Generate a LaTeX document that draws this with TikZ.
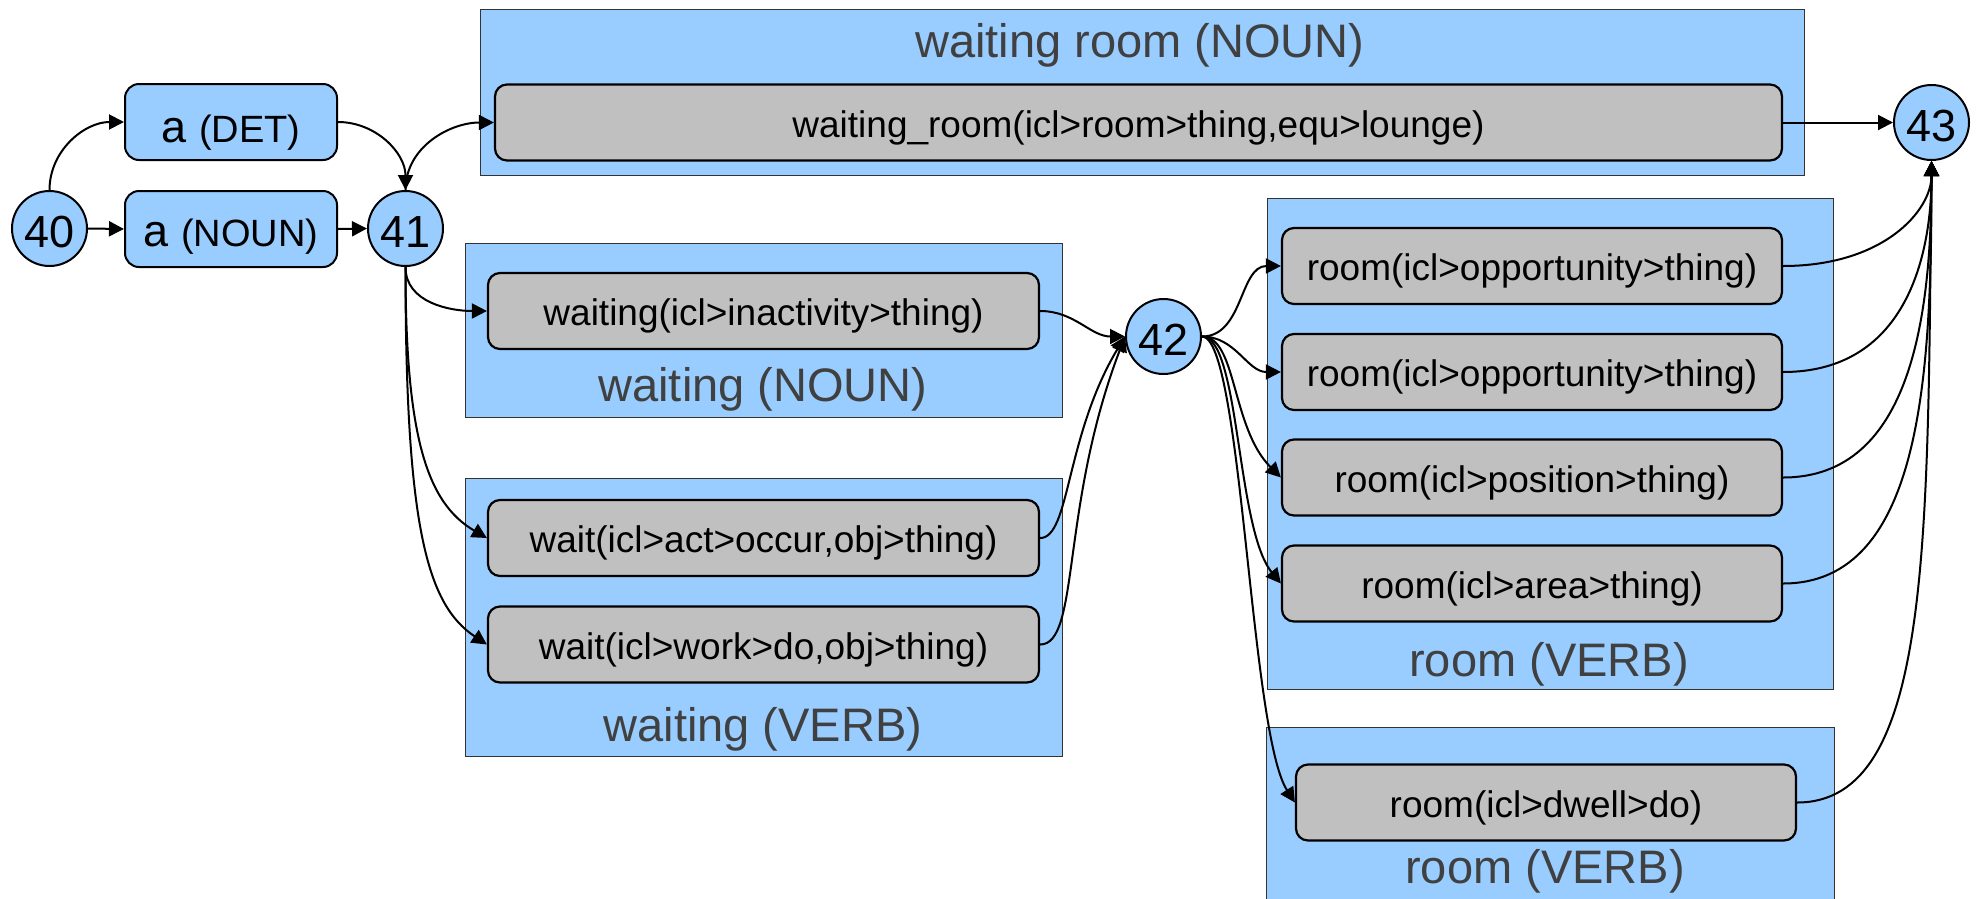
\documentclass[tikz,border=0pt]{standalone}
\usepackage{fontspec}
\setmainfont{Liberation Sans}
\usetikzlibrary{arrows.meta}
\definecolor{boxblue}{HTML}{99CCFF}
\definecolor{boxgray}{HTML}{C0C0C0}
\definecolor{labelgray}{HTML}{404040}
\definecolor{frameline}{HTML}{333333}
\newcommand{\myfs}[1]{\fontsize{#1pt}{#1pt}\selectfont}
\begin{document}
\begin{tikzpicture}[x=1pt,y=1pt,
  state/.style={circle,draw=black,line width=2pt,fill=boxblue,minimum size=75pt,inner sep=0pt,font=\myfs{45},text height=38pt,text depth=0pt},
  tok/.style={rectangle,rounded corners=14pt,draw=black,line width=2pt,fill=boxblue,minimum width=212pt,minimum height=76pt,inner sep=0pt,font=\myfs{45},text depth=0pt},
  uw/.style={rectangle,rounded corners=12pt,draw=black,line width=2.2pt,fill=boxgray,minimum height=76pt,inner sep=0pt,font=\myfs{37},text height=29pt,text depth=0pt},
  group/.style={rectangle,draw=frameline,line width=1.3pt,fill=boxblue,anchor=north west,inner sep=0pt},
  grouplabel/.style={text=labelgray,font=\myfs{47},anchor=base,inner sep=0pt},
  conn/.style={line width=2pt,-{Triangle[length=15pt,width=15pt]}},
]
\useasboundingbox (0,0) rectangle (1982,-898);

% group boxes
\node[group,minimum width=1324pt,minimum height=166pt] (gWR) at (480,-9) {};
\node[group,minimum width=597pt,minimum height=174pt] (gWN) at (465,-243) {};
\node[group,minimum width=597pt,minimum height=278pt] (gWV) at (465,-478) {};
\node[group,minimum width=566pt,minimum height=491pt] (gRV1) at (1267,-198) {};
\node[group,minimum width=568pt,minimum height=200pt] (gRV2) at (1266,-727) {};

% group labels
\node[grouplabel] (lWR) at (1140,-57) {waiting room (NOUN)};
\node[grouplabel] (lWN) at (763,-401.5) {waiting (NOUN)};
\node[grouplabel] (lWV) at (763,-741) {waiting (VERB)};
\node[grouplabel] (lRV1) at (1549,-676) {room (VERB)};
\node[grouplabel] (lRV2) at (1545,-883) {room (VERB)};

% states
\node[state] (n40) at (49.5,-228.5) {40};
\node[state] (n41) at (405.5,-228.5) {41};
\node[state] (n42) at (1163.5,-336.5) {42};
\node[state] (n43) at (1931.5,-122.5) {43};

% tokens
\node[tok,text height=40pt] (det) at (231,-122) {a {\myfs{38}(DET)}};
\node[tok,text height=34pt] (noun) at (231,-229) {a {\myfs{38}(NOUN)}};

% UWs
\node[uw,minimum width=1287pt] (wr) at (1138.5,-122.5) {waiting\_room(icl>room>thing,equ>lounge)};
\node[uw,minimum width=551pt] (inact) at (763.5,-311) {waiting(icl>inactivity>thing)};
\node[uw,minimum width=551pt] (act) at (763.5,-538) {wait(icl>act>occur,obj>thing)};
\node[uw,minimum width=551pt] (work) at (763.5,-644.5) {wait(icl>work>do,obj>thing)};
\node[uw,minimum width=500pt] (room1) at (1532,-266) {room(icl>opportunity>thing)};
\node[uw,minimum width=500pt] (room2) at (1532,-372) {room(icl>opportunity>thing)};
\node[uw,minimum width=500pt] (room3) at (1532,-477.5) {room(icl>position>thing)};
\node[uw,minimum width=500pt] (room4) at (1532,-583.5) {room(icl>area>thing)};
\node[uw,minimum width=500pt] (dwell) at (1546,-802.5) {room(icl>dwell>do)};

% connectors
\draw[conn] (n40.north) to[out=90,in=180] (det.west);
\draw[conn] (n40.east) -- (noun.west);
\draw[conn] (det.east) to[out=0,in=90] (n41.north);
\draw[conn] (noun.east) -- (n41.west);
\draw[conn] (n41.north) to[out=90,in=180] (wr.west);
\draw[conn] (wr.east) -- (n43.west);
\draw[conn] (n41.south) to[out=-90,in=180] (inact.west);
\draw[conn] (n41.south) .. controls +(0,-170) and +(-60,35) .. (act.west);
\draw[conn] (n41.south) .. controls +(0,-260) and +(-60,40) .. (work.west);
\draw[conn] (inact.east) to[out=0,in=180] (n42.west);
\draw[conn] (act.east) .. controls +(30,0) and +(-60,-100) .. (n42.west);
\draw[conn] (work.east) .. controls +(40,0) and +(-65,-170) .. (n42.west);
\draw[conn] (n42.east) to[out=0,in=180] (room1.west);
\draw[conn] (n42.east) to[out=0,in=180] (room2.west);
\draw[conn] (n42.east) .. controls +(35,0) and +(-50,50) .. (room3.west);
\draw[conn] (n42.east) .. controls +(38,0) and +(-45,55) .. (room4.west);
\draw[conn] (n42.east) .. controls +(40,0) and +(-45,70) .. (dwell.west);
\draw[conn] (room1.east) .. controls +(100,0) and +(0,-50) .. (n43.south);
\draw[conn] (room2.east) .. controls +(120,0) and +(0,-100) .. (n43.south);
\draw[conn] (room3.east) .. controls +(130,0) and +(0,-150) .. (n43.south);
\draw[conn] (room4.east) .. controls +(140,0) and +(0,-210) .. (n43.south);
\draw[conn] (dwell.east) .. controls +(135,0) and +(-4,-380) .. (n43.south);
\end{tikzpicture}
\end{document}
